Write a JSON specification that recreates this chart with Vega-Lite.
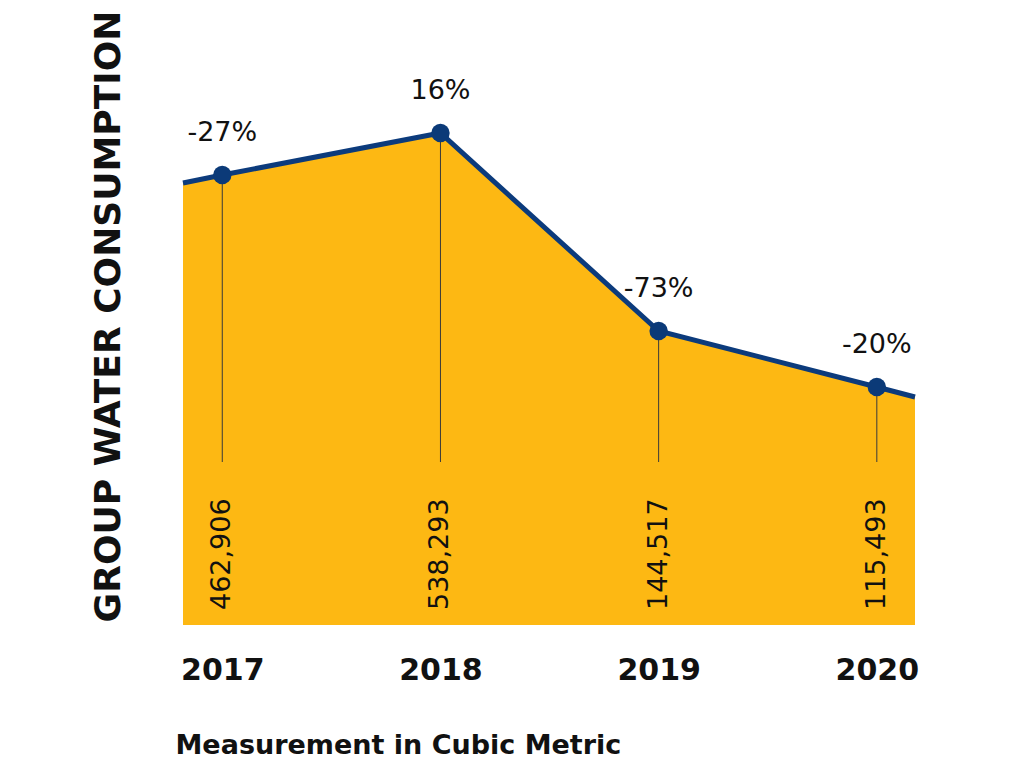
{
  "$schema": "https://vega.github.io/schema/vega-lite/v6.json",
  "width": 732,
  "height": 600,
  "autosize": "none",
  "padding": {"left": 183, "top": 25, "right": 109, "bottom": 143},
  "background": "white",
  "config": {"view": {"stroke": null}},
  "data": {
    "values": [
      {"year": 2016.82, "level": 442},
      {"year": 2017, "level": 450, "value": 462906, "change": "-27%"},
      {"year": 2018, "level": 492, "value": 538293, "change": "16%"},
      {"year": 2019, "level": 294, "value": 144517, "change": "-73%"},
      {"year": 2020, "level": 238, "value": 115493, "change": "-20%"},
      {"year": 2020.175, "level": 228}
    ]
  },
  "encoding": {
    "x": {
      "field": "year",
      "type": "quantitative",
      "scale": {"domain": [2016.82, 2020.175], "nice": false, "zero": false},
      "axis": {
        "values": [2017, 2018, 2019, 2020],
        "format": "d",
        "domain": false,
        "ticks": false,
        "grid": false,
        "labelFont": "DejaVu Sans",
        "labelFontWeight": "bold",
        "labelFontSize": 30,
        "labelColor": "#111111",
        "labelPadding": 30,
        "labelFlush": false,
        "title": "Measurement in Cubic Metric",
        "titleFont": "DejaVu Sans",
        "titleFontWeight": "bold",
        "titleFontSize": 27,
        "titleColor": "#111111",
        "titleX": -8,
        "titleY": 120,
        "titleAlign": "left",
        "titleBaseline": "middle"
      }
    },
    "y": {
      "field": "level",
      "type": "quantitative",
      "scale": {"domain": [0, 600], "nice": false},
      "axis": {
        "domain": false,
        "ticks": false,
        "grid": false,
        "labels": false,
        "title": "GROUP WATER CONSUMPTION",
        "titleFont": "DejaVu Sans",
        "titleFontWeight": "bold",
        "titleFontSize": 36,
        "titleColor": "#111111",
        "titleAngle": 270,
        "titleX": -75,
        "titleY": 291,
        "titleAlign": "center",
        "titleBaseline": "middle"
      }
    }
  },
  "layer": [
    {"mark": {"type": "area", "color": "#FDB813", "opacity": 1}},
    {"mark": {"type": "line", "color": "#0C3B7C", "strokeWidth": 5}},
    {
      "transform": [{"filter": "datum.value != null"}],
      "mark": {"type": "rule", "color": "#3a3a3a", "strokeWidth": 1},
      "encoding": {"y2": {"datum": 163}}
    },
    {
      "transform": [{"filter": "datum.value != null"}],
      "mark": {"type": "point", "filled": true, "opacity": 1, "color": "#0B3A78", "size": 340}
    },
    {
      "transform": [{"filter": "datum.value != null"}],
      "mark": {"type": "text", "font": "DejaVu Sans", "fontSize": 27, "color": "#111111", "dy": -42, "baseline": "middle", "align": "center"},
      "encoding": {"text": {"field": "change"}}
    },
    {
      "transform": [{"filter": "datum.value != null"}],
      "mark": {"type": "text", "font": "DejaVu Sans", "fontSize": 27, "color": "#111111", "angle": 270, "align": "left", "baseline": "middle"},
      "encoding": {
        "y": {"datum": 15},
        "text": {"field": "value", "type": "quantitative", "format": ",d"}
      }
    }
  ]
}
